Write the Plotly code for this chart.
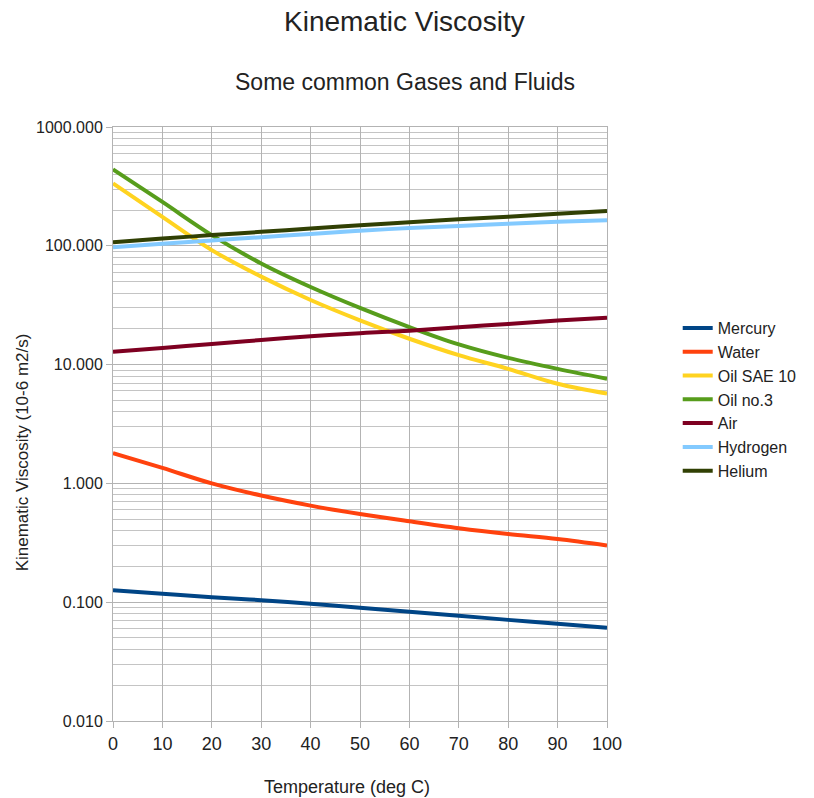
import plotly.graph_objects as go

temps = [0, 10, 20, 30, 40, 50, 60, 70, 80, 90, 100]
mercury = [0.126, 0.118, 0.110, 0.104, 0.097, 0.090, 0.083, 0.077, 0.071, 0.066, 0.061]
water = [1.80, 1.35, 1.00, 0.79, 0.65, 0.553, 0.48, 0.42, 0.375, 0.34, 0.30]
oil_sae10 = [335, 175, 92, 55, 35, 23.6, 16.5, 12.0, 9.2, 6.9, 5.7]
oil_no3 = [440, 234, 123, 71, 45, 30, 20.7, 14.8, 11.4, 9.2, 7.6]
air = [12.8, 13.8, 14.9, 16.1, 17.3, 18.4, 19.3, 20.6, 22.0, 23.5, 24.8]
hydrogen = [97, 104, 111, 118, 126, 134, 141, 147, 153, 159, 164]
helium = [107, 115, 123, 131, 140, 149, 158, 167, 176, 186, 196]

y_major = [0.01, 0.1, 1, 10, 100, 1000]
y_labels = ["0.010", "0.100", "1.000", "10.000", "100.000", "1000.000"]

series = [
    ("Mercury", mercury, "#004586"),
    ("Water", water, "#ff420e"),
    ("Oil SAE 10", oil_sae10, "#ffd320"),
    ("Oil no.3", oil_no3, "#579d1c"),
    ("Air", air, "#7e0021"),
    ("Hydrogen", hydrogen, "#83caff"),
    ("Helium", helium, "#314004"),
]

FONT = "Liberation Sans, Arial, sans-serif"
TXT = "#222"

fig = go.Figure()
for name, vals, color in series:
    fig.add_trace(go.Scatter(x=temps, y=vals, name=name, mode="lines",
                             line=dict(color=color, width=4, shape="spline")))

minor_vals = [d * m for d in y_major[:-1] for m in range(2, 10)]

plot_h = 798 - 127 - 77
plot_w = 814 - 113 - 205
def py(pix):
    return (798 - 77 - pix) / plot_h
def px(pix):
    return (pix - 113) / plot_w

fig.update_layout(
    width=814, height=798,
    margin=dict(l=113, r=205, t=127, b=77),
    paper_bgcolor="white", plot_bgcolor="white",
    font=dict(family=FONT, size=16, color=TXT),
    showlegend=True,
    legend=dict(x=px(680), y=py(311), xanchor="left", yanchor="top",
                font=dict(size=16, color=TXT), bgcolor="rgba(0,0,0,0)",
                tracegroupgap=0),
    xaxis=dict(range=[0, 100], tickmode="array", tickvals=list(range(0, 101, 10)),
               showgrid=True, gridcolor="#b3b3b3", gridwidth=1,
               ticks="outside", ticklen=6, tickcolor="#b3b3b3",
               showline=True, linecolor="#b3b3b3", mirror=True, automargin=False,
               zeroline=False, tickfont=dict(size=18, color=TXT)),
    yaxis=dict(type="log", range=[-2, 3], tickmode="array",
               tickvals=y_major, ticktext=y_labels, automargin=False,
               showgrid=True, gridcolor="#b3b3b3", gridwidth=1,
               ticks="outside", ticklen=6, tickcolor="#b3b3b3",
               minor=dict(tickmode="array", tickvals=minor_vals, showgrid=True,
                          gridcolor="#c4c4c4", gridwidth=1, ticks=""),
               showline=True, linecolor="#b3b3b3", mirror=True,
               zeroline=False, tickfont=dict(size=16, color=TXT)),
    annotations=[
        dict(text="Kinematic Viscosity", x=px(406), y=py(21), xref="paper", yref="paper",
             showarrow=False, yanchor="middle", xanchor="center", font=dict(size=28, color=TXT)),
        dict(text="Some common Gases and Fluids", x=px(406), y=py(82), xref="paper", yref="paper",
             showarrow=False, yanchor="middle", xanchor="center", font=dict(size=23, color=TXT)),
        dict(text="Temperature (deg C)", x=px(348), y=py(787), xref="paper", yref="paper",
             showarrow=False, yanchor="middle", xanchor="center", font=dict(size=18, color=TXT)),
        dict(text="Kinematic Viscosity (10-6 m2/s)", x=px(22), y=py(452), xref="paper", yref="paper",
             showarrow=False, yanchor="middle", xanchor="center", textangle=-90,
             font=dict(size=17, color=TXT)),
    ],
)

fig.write_html("out.html")
